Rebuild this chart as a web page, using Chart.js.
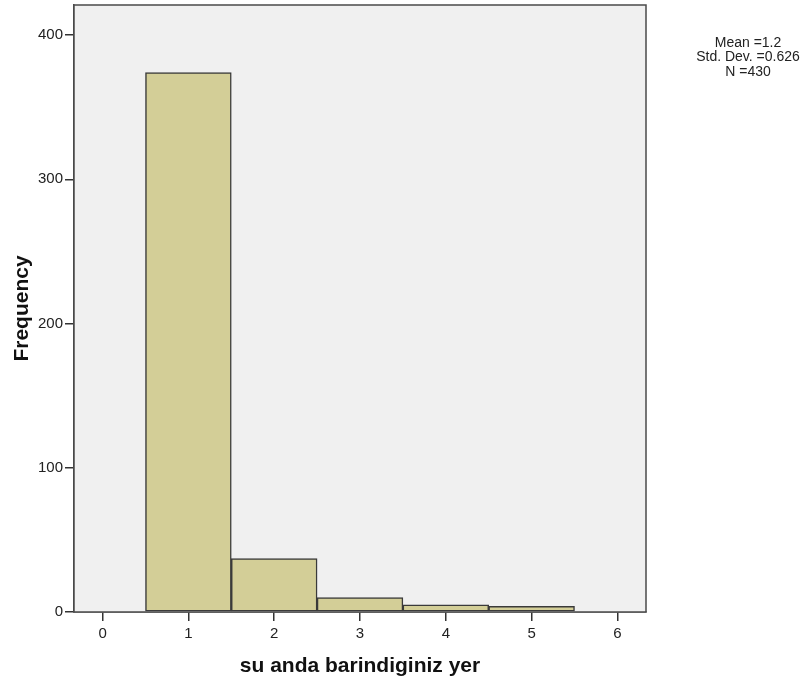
<!DOCTYPE html>
<html>
<head>
<meta charset="utf-8">
<script src="https://cdn.jsdelivr.net/npm/chart.js@4"></script>
<style>
  html, body { margin: 0; padding: 0; background: #ffffff; }
  #wrap { width: 807px; height: 681px; }
</style>
</head>
<body>
<div id="wrap"><canvas id="histChart" width="807" height="681"></canvas></div>
<script>
// Histogram data
const binValues = [1, 2, 3, 4, 5];
const frequencies = [374, 37, 10, 5, 4];
const xTicks = [0, 1, 2, 3, 4, 5, 6];
const yTicks = [0, 100, 200, 300, 400];
const statsLines = ['Mean =1.2', 'Std. Dev. =0.626', 'N =430'];
const xTitle = 'su anda barindiginiz yer';
const yTitle = 'Frequency';

const fontFamily = '"Liberation Sans", Arial, sans-serif';

// Background + frame of plot area, and the stats box on the right
const framePlugin = {
    id: 'frame',
    beforeDatasetsDraw(chart) {
        const { ctx, chartArea: a } = chart;
        ctx.save();
        ctx.fillStyle = '#f0f0f0';
        ctx.fillRect(a.left, a.top, a.right - a.left, a.bottom - a.top);
        ctx.restore();
    },
    afterDraw(chart) {
        const { ctx, chartArea: a } = chart;
        ctx.save();
        ctx.strokeStyle = '#4a4a4a';
        ctx.lineWidth = 1.5;
        ctx.strokeRect(a.left, a.top, a.right - a.left, a.bottom - a.top);

        ctx.fillStyle = '#222';
        ctx.font = '14px ' + fontFamily;
        ctx.textAlign = 'center';
        ctx.textBaseline = 'middle';
        statsLines.forEach((line, i) => {
            ctx.fillText(line, 748, 43 + i * 14.5);
        });
        ctx.restore();
    }
};

const ctx = document.getElementById('histChart').getContext('2d');
new Chart(ctx, {
    type: 'bar',
    data: {
        datasets: [{
            data: binValues.map((v, i) => ({ x: v, y: frequencies[i] })),
            backgroundColor: '#d3ce97',
            borderColor: '#3a3a3a',
            borderWidth: 1.5,
            borderSkipped: false,
            barPercentage: 1,
            categoryPercentage: 1
        }]
    },
    options: {
        responsive: false,
        animation: false,
        layout: { padding: { top: 5, right: 161, left: 0, bottom: 0 } },
        plugins: {
            legend: { display: false },
            tooltip: { enabled: false }
        },
        scales: {
            x: {
                type: 'linear',
                offset: false,
                min: -0.333,
                max: 6.333,
                afterBuildTicks: (scale) => { scale.ticks = xTicks.map(v => ({ value: v })); },
                afterFit: (scale) => { scale.height = 69; scale.paddingLeft = 0; scale.paddingRight = 0; },
                grid: { display: true, offset: false, drawOnChartArea: false, drawTicks: true, tickLength: 9, color: '#333', lineWidth: 1.5 },
                border: { display: true, color: '#4a4a4a', width: 1.5 },
                ticks: { color: '#222', font: { family: fontFamily, size: 15 }, padding: 4, maxRotation: 0 },
                title: {
                    display: true,
                    text: xTitle,
                    color: '#111',
                    font: { family: fontFamily, size: 21, weight: 'bold' },
                    padding: { top: 0, bottom: 2 }
                }
            },
            y: {
                min: 0,
                max: 420.8,
                afterBuildTicks: (scale) => { scale.ticks = yTicks.map(v => ({ value: v })); },
                afterFit: (scale) => { scale.width = 74; scale.paddingTop = 0; scale.paddingBottom = 0; },
                grid: { display: true, drawOnChartArea: false, drawTicks: true, tickLength: 9, color: '#333', lineWidth: 1.5 },
                border: { display: true, color: '#4a4a4a', width: 1.5 },
                ticks: { color: '#222', font: { family: fontFamily, size: 15 }, padding: 2 },
                title: {
                    display: true,
                    text: yTitle,
                    color: '#111',
                    font: { family: fontFamily, size: 21, weight: 'bold' },
                    padding: { top: 10, bottom: 0 }
                }
            }
        }
    },
    plugins: [framePlugin]
});
</script>
</body>
</html>
